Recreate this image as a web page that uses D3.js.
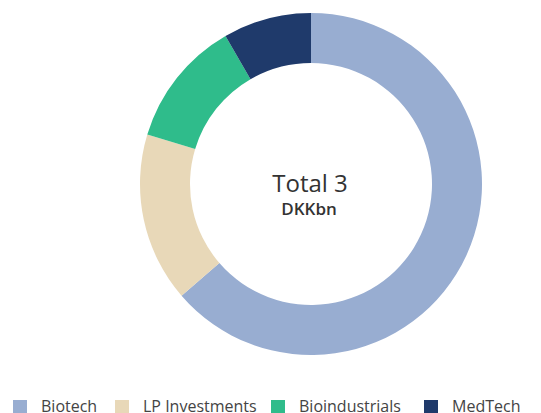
<!DOCTYPE html>
<html>
<head>
<meta charset="utf-8">
<script src="https://cdn.jsdelivr.net/npm/d3@7"></script>
<style>
    body { margin: 0; background: #fff; }
    svg { display: block; font-family: "Open Sans", "Noto Sans", sans-serif; }
</style>
</head>
<body>
<svg id="chart" width="541" height="413"></svg>
<script>
(function(){
    'use strict';

    // Segments, clockwise from 12 o'clock
    var categories = ['Biotech', 'LP Investments', 'Bioindustrials', 'MedTech'];
    var values = [1.91, 0.48, 0.36, 0.25];
    var colours = ['#98add1', '#e8d8b8', '#2fbc8b', '#1f3a6b'];

    var totalLabel = 'Total 3';
    var unitLabel = 'DKKbn';

    var svg = d3.select('#chart');
    var cx = 311, cy = 184;
    var outerR = 171, innerR = 121;

    var pie = d3.pie().sort(null).value(function(d){ return d; });
    var arc = d3.arc().innerRadius(innerR).outerRadius(outerR);
    var colour = d3.scaleOrdinal().domain(categories).range(colours);

    var g = svg.append('g')
        .attr('transform', 'translate(' + cx + ',' + cy + ')');

    g.selectAll('path')
        .data(pie(values))
        .enter()
        .append('path')
        .attr('d', arc)
        .attr('fill', function(d, i){ return colour(categories[i]); });

    g.append('text')
        .attr('text-anchor', 'middle')
        .attr('x', -1)
        .attr('y', 8)
        .attr('font-size', 24)
        .attr('fill', '#333')
        .text(totalLabel);

    g.append('text')
        .attr('text-anchor', 'middle')
        .attr('x', -2)
        .attr('y', 31)
        .attr('font-size', 17)
        .attr('font-weight', 600)
        .attr('fill', '#333')
        .text(unitLabel);

    // Legend along the bottom edge
    var legendX = d3.scaleOrdinal().domain(categories).range([13, 115, 271, 424]);
    var legend = svg.append('g').attr('class', 'legend');

    var items = legend.selectAll('g')
        .data(categories)
        .enter()
        .append('g')
        .attr('transform', function(d){ return 'translate(' + legendX(d) + ',400)'; });

    items.append('rect')
        .attr('width', 14)
        .attr('height', 13)
        .attr('fill', function(d){ return colour(d); });

    items.append('text')
        .attr('x', 28)
        .attr('y', 12)
        .attr('font-size', 16)
        .attr('fill', '#444')
        .text(function(d){ return d; });
})();
</script>
</body>
</html>
